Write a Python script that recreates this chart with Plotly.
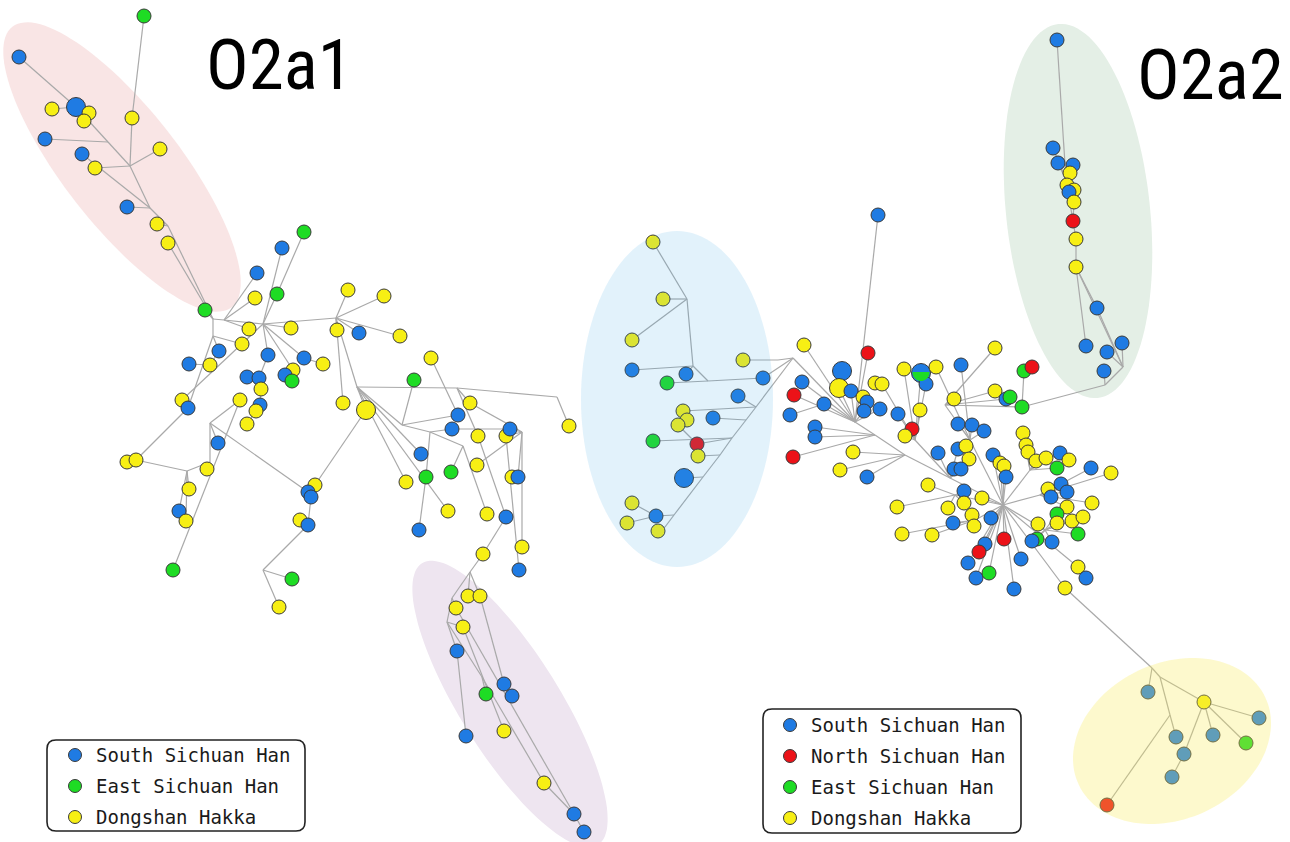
import math
import plotly.graph_objects as go

W, H = 1290, 842

# Population codes: S = South Sichuan Han, N = North Sichuan Han,
# E = East Sichuan Han, D = Dongshan Hakka
POP_NAME = {"S": "South Sichuan Han", "N": "North Sichuan Han",
            "E": "East Sichuan Han", "D": "Dongshan Hakka"}
POP_COLOR = {"S": "#1f7be3", "N": "#ec1218", "E": "#1edc24", "D": "#f7ef14"}

# ---- O2a1 network: haplotype layout positions and populations ----
L_X = [144, 19, 76, 52, 89, 84, 132, 45, 160, 82,
       95, 127, 157, 168, 205, 282, 304, 257, 255, 277,
       249, 291, 348, 384, 337, 359, 400, 242, 219, 268,
       304, 323, 189, 210, 293, 285, 292, 247, 259, 261,
       240, 182, 188, 260, 256, 247, 343, 366, 218, 127,
       136, 207, 189, 179, 186, 173, 315, 308, 311, 300,
       308, 292, 279, 431, 414, 470, 458, 452, 478, 506,
       510, 569, 421, 477, 451, 426, 406, 512, 518, 448,
       487, 506, 419, 522, 483, 519, 468, 480, 456, 463,
       457, 504, 512, 486, 466, 504, 544, 574, 584]
L_Y = [16, 57, 107, 109, 113, 121, 118, 139, 149, 154,
       168, 207, 224, 243, 310, 248, 232, 273, 298, 294,
       329, 328, 290, 296, 330, 333, 336, 344, 351, 355,
       358, 364, 364, 365, 370, 375, 381, 377, 378, 389,
       400, 400, 408, 405, 411, 424, 403, 410, 443, 462,
       460, 469, 489, 511, 521, 570, 485, 492, 497, 520,
       525, 579, 607, 358, 380, 403, 415, 429, 436, 436,
       429, 426, 454, 465, 472, 477, 482, 477, 477, 511,
       514, 517, 530, 547, 554, 570, 596, 596, 608, 627,
       651, 684, 696, 694, 736, 731, 783, 814, 832]
L_POP = ("E S S D D D D S D S "
         "D S D D E S E S D E "
         "D D D D D S D D S S "
         "S D S D D S E S S D "
         "D D S S D D D D S D "
         "D D D S D E D S S D "
         "S E D D E D S S D D "
         "S D S D E E D D S D "
         "D S S D D S D D D D "
         "S S S E S D D S S").split()

# ---- O2a2 network: western cluster ----
M_X = [653, 663, 632, 632, 686, 667, 743, 763, 738, 683, 687,
       678, 713, 653, 697, 698, 684, 632, 656, 627, 658]
M_Y = [242, 299, 340, 370, 374, 383, 360, 378, 396, 411, 420,
       425, 418, 441, 444, 456, 478, 503, 516, 523, 531]
M_POP = "D D D S S E D S S D D D S E N D S D S D D".split()

# ---- O2a2 network: central star cluster ----
R_X = [878, 804, 868, 995, 842, 839, 851, 802, 794, 824,
       790, 863, 867, 864, 880, 898, 875, 882, 904, 921,
       926, 936, 961, 954, 920, 995, 1006, 1010, 1022, 1024,
       1032, 912, 905, 815, 815, 793, 853, 840, 867, 928,
       897, 902, 932, 958, 972, 984, 938, 958, 966, 969,
       954, 961, 993, 1000, 1004, 1006, 1023, 1026, 1028, 1036,
       1046, 1060, 1069, 1057, 1091, 1111, 964, 964, 982, 948,
       972, 974, 953, 991, 985, 979, 1004, 968, 976, 989,
       1021, 1014, 1048, 1051, 1061, 1067, 1067, 1092, 1057, 1057,
       1072, 1083, 1078, 1038, 1037, 1032, 1052, 1078, 1086, 1065]
R_Y = [215, 345, 353, 348, 371, 388, 391, 382, 395, 404,
       415, 397, 402, 411, 409, 414, 383, 384, 369, 373,
       384, 367, 365, 399, 410, 391, 399, 397, 407, 371,
       367, 429, 436, 427, 437, 457, 452, 470, 477, 485,
       507, 534, 535, 424, 425, 431, 453, 449, 446, 459,
       469, 469, 455, 463, 466, 477, 433, 445, 452, 461,
       458, 453, 460, 468, 468, 473, 491, 503, 498, 508,
       515, 526, 523, 518, 544, 552, 539, 563, 578, 573,
       559, 589, 489, 497, 484, 492, 507, 503, 514, 523,
       521, 517, 534, 524, 539, 541, 542, 567, 578, 588]
R_POP = ("S D N D S D S S N S "
         "S D S S S S D D D S "
         "S D S D D D S E E E "
         "N N D S S N D D S D "
         "D D D S S S S S D D "
         "S S S D D S D D D D "
         "D S D E S D S D D D "
         "D D S S S N N S S E "
         "S S D S S S D D E D "
         "D D E D E S S D S D").split()

# ---- O2a2 network: northern branch ----
G_X = [1057, 1053, 1058, 1073, 1070, 1067, 1074, 1069, 1074,
       1073, 1076, 1076, 1097, 1086, 1107, 1122, 1104]
G_Y = [40, 148, 163, 165, 173, 185, 190, 192, 202,
       221, 239, 267, 308, 346, 352, 343, 371]
G_POP = "S S S S D D D S D N D D S S S S S".split()

# ---- O2a2 network: south-eastern branch ----
Y_X = [1148, 1204, 1259, 1176, 1213, 1246, 1184, 1172, 1107]
Y_Y = [692, 702, 718, 737, 735, 743, 754, 777, 805]
Y_POP = "S D S S S E S S N".split()

# haplotypes shared by more than one individual (default is 1)
HAP_FREQ = {"L3": 2, "L48": 2, "M17": 2, "R5": 2, "R6": 2, "R20": 2}
# haplotypes shared by two populations: second population fills lower half
HAP_SECOND_POP = {"R20": "E"}

# ---- median vectors (unsampled nodes) ----
JL_X = [108, 130, 150, 168, 213, 224, 263, 336, 357, 457, 557, 522,
        402, 430, 463, 213, 187, 210, 210, 263, 470, 452, 447, 482]
JL_Y = [142, 166, 208, 226, 319, 320, 324, 318, 387, 388, 397, 432,
        425, 432, 446, 336, 471, 462, 423, 570, 572, 598, 622, 677]
JM_X = [687, 693, 708, 793, 778, 756, 746, 732, 720, 703, 674, 665]
JM_Y = [299, 366, 381, 358, 360, 407, 420, 438, 455, 477, 515, 527]
JR_X = [1003, 855, 875, 905, 950, 915, 970, 945, 955, 975, 1040, 1045, 1030]
JR_Y = [505, 422, 435, 455, 478, 440, 440, 405, 495, 520, 495, 530, 470]
JG_X = [1066, 1123, 1105]
JG_Y = [180, 367, 385]
JY_X = [1152, 1160, 1170]
JY_Y = [668, 677, 715]

# ---- network links ----
LINKS_O2A1 = """
L2-L3 L4-L3 L5-L3 L6-L3 L3-jl1 L8-jl1 jl1-jl2 L1-L7 L7-jl2 L9-jl2 L11-jl2
jl2-jl3 L10-jl3 L12-jl3 jl3-jl4 L13-jl4 jl4-jl5 L14-jl5 L15-jl5
jl5-jl6 jl6-jl7 jl7-jl8 jl6-L18 jl6-L19 jl7-L16 jl7-L20 L20-L17 jl6-L21 jl7-L22
jl8-L23 jl8-L24 jl8-L25 jl8-L26 jl8-L27 jl8-L47 jl8-jl9
jl9-jl10 jl10-jl11 jl11-L72 jl10-L66 L66-jl12 jl12-L70 jl12-L71 jl12-L79 L79-L78
jl12-L84 L64-L67 jl9-jl13 jl13-L65 jl13-L67 jl10-L69 jl14-L68 L68-L71
jl13-jl14 jl14-L76 L76-L83 jl14-jl15 jl15-L75 jl15-L81 L74-jl12 L69-L82 L70-L86 L82-L85
jl9-L73 jl9-L77 jl9-L80 L48-jl9 L57-L48
jl5-jl16 jl16-L28 jl16-L29 L29-L34 L34-L33 jl16-L43 L43-L42 jl7-L42 L43-L51 L51-L50
L51-jl17 jl17-L53 jl17-L54 jl17-L55 jl17-jl18 jl18-L52 jl18-jl19 jl19-L49 jl19-L41
jl19-L58 L58-L59 L57-L58 L59-L61 L61-L60 L61-jl20 jl20-L62 jl20-L63 L41-L56
jl7-L31 L31-L32 jl7-L35 L35-L36 L36-L37 jl7-L30 L30-L39 L39-L38 L39-L40 L40-L44 L44-L45 L45-L46
L85-jl21 jl21-L87 jl21-L88 jl21-jl22 jl22-L89 jl22-jl23 jl23-L90 jl23-L91 L91-L95
L88-L92 L92-L93 jl23-jl24 jl24-L94 jl24-L97 L97-L98 L98-L99 L90-L96 L89-L98
"""
LINKS_O2A2 = """
M1-jm1 M2-jm1 M3-jm1 jm1-jm2 M4-jm2 M5-jm2 jm2-jm3 M6-jm3 jm3-M8 M8-jm4 M7-jm5 jm5-jm4
jm4-jm6 jm6-M9 jm6-M10 jm6-jm7 jm7-M13 M10-M11 M11-M12 M12-M15 jm7-jm8 jm8-M14 jm8-M15
jm8-jm9 jm9-M16 jm9-jm10 jm10-M17 jm10-jm11 jm11-M19 M19-M18 M19-M20 jm11-jm12 jm12-M21
jm4-jr2 R1-jr2 R2-jr2 R3-jr2 R5-R6 R6-jr2 R7-jr2 R8-jr2 R9-jr2 R10-jr2 R11-R10
R12-R13 R13-R14 R14-jr2 R15-jr2 R17-R18 R18-jr6
jr2-jr3 jr3-jr4 jr4-jr5 jr5-jr1
R34-jr3 R35-jr3 R36-jr3 R37-jr4 R38-jr4 R39-jr4
R16-jr6 R19-jr6 R20-jr6 R21-jr6 R25-jr6 R32-jr6 R33-jr6 jr6-jr5
R22-jr7 R23-jr7 R44-jr7 R45-jr7 R46-jr7 R49-jr7 jr7-jr1 jr8-jr7
R4-jr8 R24-jr8 R26-jr8 R27-jr8 R29-jr8 R28-R29 R30-R29 R31-R30
R47-jr5 R48-jr5 R50-jr5 R51-jr5 R52-jr5
R40-jr9 R41-jr9 R67-jr9 R68-jr9 R70-jr9 jr9-jr1
R42-jr10 R43-jr10 R71-jr10 R72-jr10 R73-jr10 jr10-jr1 R69-jr1 R74-jr1
R53-jr1 R54-jr1 R55-jr1 R56-jr1
R75-jr1 R76-jr1 R77-jr1 R78-jr1 R79-jr1 R80-jr1 R81-jr1 R82-jr1
R57-jr13 R58-jr13 R59-jr13 R60-jr13 R61-jr13 R62-jr13 R63-R62 R64-jr13 jr13-jr1
R65-jr11 R66-jr11 R83-jr11 R84-jr11 R85-jr11 R86-jr11 R87-jr11 R88-jr11 jr11-jr1
R89-jr12 R90-jr12 R91-jr12 R92-jr12 R93-jr12 R94-jr12 R95-jr12 R96-jr12 R97-jr12 jr12-jr1
R98-R99 R98-jr1 jr1-R100 R100-jy1
G1-jg1 G2-jg1 G3-jg1 G4-G5 G5-jg1 jg1-G6 G6-G7 G7-G8 G8-G9 G9-G10 jg1-G10 G10-G11
G11-G12 G12-G14 G12-G13 G13-jg2 G12-jg2 G15-jg2 G16-jg2 jg2-jg3 G17-jg3 jg3-R29
jy1-Y1 jy1-jy2 jy2-Y2 Y2-Y3 jy2-jy3 jy3-Y4 jy3-Y9 Y2-Y7 Y7-Y8 Y2-Y5 Y2-Y6
"""

# ---------------------------------------------------------------------------
pos, pop, order = {}, {}, []
for prefix, xs, ys, pops in [("L", L_X, L_Y, L_POP), ("M", M_X, M_Y, M_POP),
                             ("R", R_X, R_Y, R_POP), ("G", G_X, G_Y, G_POP),
                             ("Y", Y_X, Y_Y, Y_POP)]:
    for i, (x, y, p) in enumerate(zip(xs, ys, pops)):
        key = f"{prefix}{i + 1}"
        pos[key] = (x, y)
        pop[key] = p
        order.append(key)
for prefix, xs, ys in [("jl", JL_X, JL_Y), ("jm", JM_X, JM_Y), ("jr", JR_X, JR_Y),
                       ("jg", JG_X, JG_Y), ("jy", JY_X, JY_Y)]:
    for i, (x, y) in enumerate(zip(xs, ys)):
        pos[f"{prefix}{i + 1}"] = (x, y)

ex, ey = [], []
for link in (LINKS_O2A1 + LINKS_O2A2).split():
    a, b = link.split("-")
    ex += [pos[a][0], pos[b][0], None]
    ey += [pos[a][1], pos[b][1], None]


def node_size(key):
    return 14 if HAP_FREQ.get(key, 1) == 1 else 19


def ellipse_path(cx, cy, a, b, deg, n=120):
    t = math.radians(deg)
    pts = []
    for k in range(n):
        u = 2 * math.pi * k / n
        px, py = a * math.cos(u), b * math.sin(u)
        pts.append((cx + px * math.cos(t) - py * math.sin(t),
                    cy + px * math.sin(t) + py * math.cos(t)))
    return "M " + " L ".join(f"{x:.1f},{y:.1f}" for x, y in pts) + " Z"


def half_disk_path(cx, cy, r, n=40):
    pts = [(cx + r * math.cos(math.pi * k / n), cy - 1 + (r + 1) * math.sin(math.pi * k / n) * 0.95)
           for k in range(n + 1)]
    return "M " + " L ".join(f"{x:.1f},{y:.1f}" for x, y in pts) + " Z"


def rounded_rect(x0, y0, x1, y1, r):
    return (f"M {x0 + r},{y0} L {x1 - r},{y0} Q {x1},{y0} {x1},{y0 + r} "
            f"L {x1},{y1 - r} Q {x1},{y1} {x1 - r},{y1} L {x0 + r},{y1} "
            f"Q {x0},{y1} {x0},{y1 - r} L {x0},{y0 + r} Q {x0},{y0} {x0 + r},{y0} Z")


fig = go.Figure()

# links
fig.add_trace(go.Scatter(x=ex, y=ey, mode="lines",
                         line=dict(color="#a9a9a9", width=1.2),
                         hoverinfo="skip", showlegend=False))

# haplotype nodes
fig.add_trace(go.Scatter(
    x=[pos[k][0] for k in order], y=[pos[k][1] for k in order],
    mode="markers",
    marker=dict(size=[node_size(k) for k in order], opacity=1,
                color=[POP_COLOR[pop[k]] for k in order],
                line=dict(color="#3a3a3a", width=1)),
    text=[POP_NAME[pop[k]] for k in order], hoverinfo="text", showlegend=False))

shapes = []
# background haplogroup clusters
shapes.append(dict(type="path", path=ellipse_path(122, 167, 178, 58, 52),
                   fillcolor="#f9e5e5", line=dict(width=0), layer="below"))
shapes.append(dict(type="path", path=ellipse_path(510, 704, 166, 50, 58),
                   fillcolor="#eee5f0", line=dict(width=0), layer="below"))
shapes.append(dict(type="path", path=ellipse_path(1078, 211, 188, 72, 84),
                   fillcolor="#e4efe6", line=dict(width=0), layer="below"))
# translucent clusters drawn over their nodes
shapes.append(dict(type="path", path=ellipse_path(677, 399, 96, 168, 0),
                   fillcolor="rgb(60,170,230)", opacity=0.15, line=dict(width=0), layer="above"))
shapes.append(dict(type="path", path=ellipse_path(1172, 741, 103, 78, -25),
                   fillcolor="rgb(250,235,90)", opacity=0.3, line=dict(width=0), layer="above"))

# shared haplotypes: lower half in the second population colour
for k, p2 in HAP_SECOND_POP.items():
    r = node_size(k) / 2 - 1
    shapes.append(dict(type="path", path=half_disk_path(pos[k][0], pos[k][1], r),
                       fillcolor=POP_COLOR[p2], line=dict(width=0), layer="above"))

TITLE_FONT = "Liberation Sans Narrow, Roboto Condensed, Arial Narrow, Roboto"
annotations = [
    dict(x=279, y=64, text="O2a1", showarrow=False, xanchor="center", yanchor="middle",
         font=dict(family=TITLE_FONT, size=71, color="#000000")),
    dict(x=1210, y=74, text="O2a2", showarrow=False, xanchor="center", yanchor="middle",
         font=dict(family=TITLE_FONT, size=71, color="#000000")),
]

# legends
legend_boxes = [
    ((47, 740, 305, 831), 75, ["S", "E", "D"], [755, 786, 817]),
    ((763, 709, 1021, 833), 790, ["S", "N", "E", "D"], [725, 756, 787, 818]),
]
for (x0, y0, x1, y1), mx, pops, ys in legend_boxes:
    shapes.append(dict(type="path", path=rounded_rect(x0, y0, x1, y1, 9),
                       line=dict(color="#222222", width=1.6), fillcolor="rgba(255,255,255,0)",
                       layer="above"))
    fig.add_trace(go.Scatter(x=[mx] * len(pops), y=ys, mode="markers",
                             marker=dict(size=13, opacity=1, color=[POP_COLOR[p] for p in pops],
                                         line=dict(color="#3a3a3a", width=1)),
                             hoverinfo="skip", showlegend=False))
    for p, yy in zip(pops, ys):
        annotations.append(dict(x=mx + 19, y=yy, text=POP_NAME[p], showarrow=False,
                                xanchor="left", yanchor="middle",
                                font=dict(family="DejaVu Sans Mono", size=19, color="#1a1a1a")))

fig.update_layout(
    width=W, height=H, margin=dict(l=0, r=0, t=0, b=0),
    paper_bgcolor="white", plot_bgcolor="white",
    xaxis=dict(range=[0, W], visible=False, fixedrange=True),
    yaxis=dict(range=[H, 0], visible=False, fixedrange=True),
    shapes=shapes, annotations=annotations, hovermode="closest",
)

fig.write_html("out.html")
